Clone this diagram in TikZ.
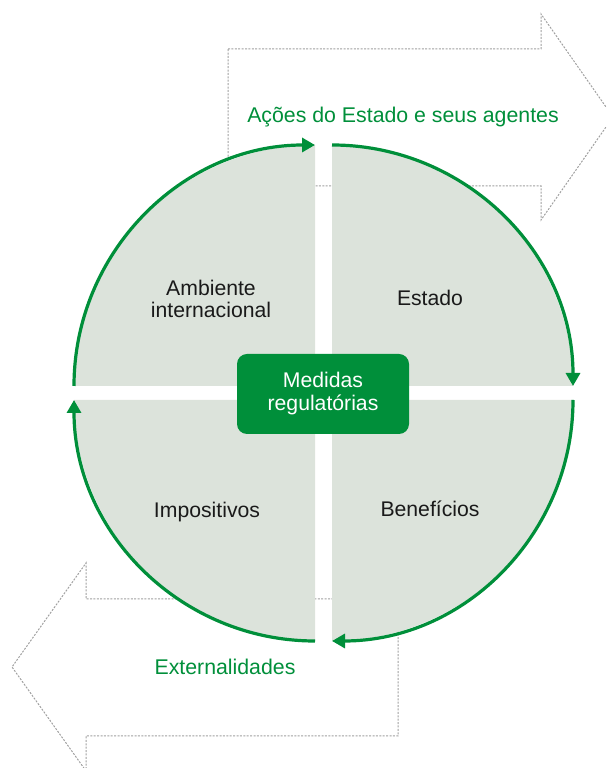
\documentclass[tikz,border=0pt]{standalone}
\usepackage{fontspec}
\setmainfont{Liberation Sans}
\usetikzlibrary{arrows.meta}
\definecolor{ggreen}{HTML}{008F3A}
\definecolor{qfill}{HTML}{DCE3DB}
\definecolor{dgray}{HTML}{A0A0A0}
\definecolor{tdark}{HTML}{1A1A1A}
\tikzset{
  outlinearrow/.style={draw=dgray, line width=1pt, dash pattern=on 2pt off 1.4pt},
  quarter/.style={fill=qfill, draw=none},
  cyclearc/.style={draw=ggreen, line width=3.2pt, -{Triangle[length=13pt,width=14pt]}},
  greenlabel/.style={text=ggreen, font=\fontsize{21.3}{24}\selectfont, inner sep=0pt},
  quadlabel/.style={text=tdark, font=\fontsize{21.2}{22}\selectfont, align=center, inner sep=0pt},
  centerbox/.style={fill=ggreen, rounded corners=10pt, minimum width=172pt, minimum height=80pt, text=white, font=\fontsize{21.2}{23}\selectfont, align=center, inner sep=0pt}
}
\begin{document}
\begin{tikzpicture}[x=1pt,y=1pt]
\useasboundingbox (0,0) rectangle (606,768);
\clip (0,0) rectangle (606,768);
% dashed outline arrows (behind)
\draw[outlinearrow] (228,719) -- (541,719) -- (541,754) -- (613,651) -- (541,548) -- (541,582) -- (228,582) -- cycle;
\draw[outlinearrow] (398,169) -- (86,169) -- (86,205) -- (12,101) -- (86,-3) -- (86,32) -- (398,32) -- cycle;
% quarter pieces
\fill[quarter] (315,382) -- (74,382) arc[start angle=180, end angle=90, radius=241] -- cycle;
\fill[quarter] (332,382) -- (332,623) arc[start angle=90, end angle=0, radius=241] -- cycle;
\fill[quarter] (332,368) -- (573,368) arc[start angle=0, end angle=-90, radius=241] -- cycle;
\fill[quarter] (315,368) -- (315,127) arc[start angle=270, end angle=180, radius=241] -- cycle;
% green cycle arcs
\coordinate (tlS) at (74,382);
\coordinate (trS) at (332,623);
\coordinate (brS) at (573,368);
\coordinate (blS) at (315,127);
\draw[cyclearc] (tlS) arc[start angle=180, end angle=90, radius=241];
\draw[cyclearc] (trS) arc[start angle=90, end angle=0, radius=241];
\draw[cyclearc] (brS) arc[start angle=0, end angle=-90, radius=241];
\draw[cyclearc] (blS) arc[start angle=270, end angle=180, radius=241];
% center box
\node[centerbox] (center) at (323,374) {Medidas\\regulatórias};
% quadrant labels
\node[quadlabel] (amb) at (211,469.5) {Ambiente\\internacional};
\node[quadlabel, anchor=base] (est) at (430,462) {Estado};
\node[quadlabel, anchor=base] (imp) at (207,250) {Impositivos};
\node[quadlabel, anchor=base] (ben) at (430,251) {Benefícios};
% arrow labels
\node[greenlabel, anchor=base] (acoes) at (403,645) {Ações do Estado e seus agentes};
\node[greenlabel, anchor=base] (ext) at (225,93) {Externalidades};
\end{tikzpicture}
\end{document}
